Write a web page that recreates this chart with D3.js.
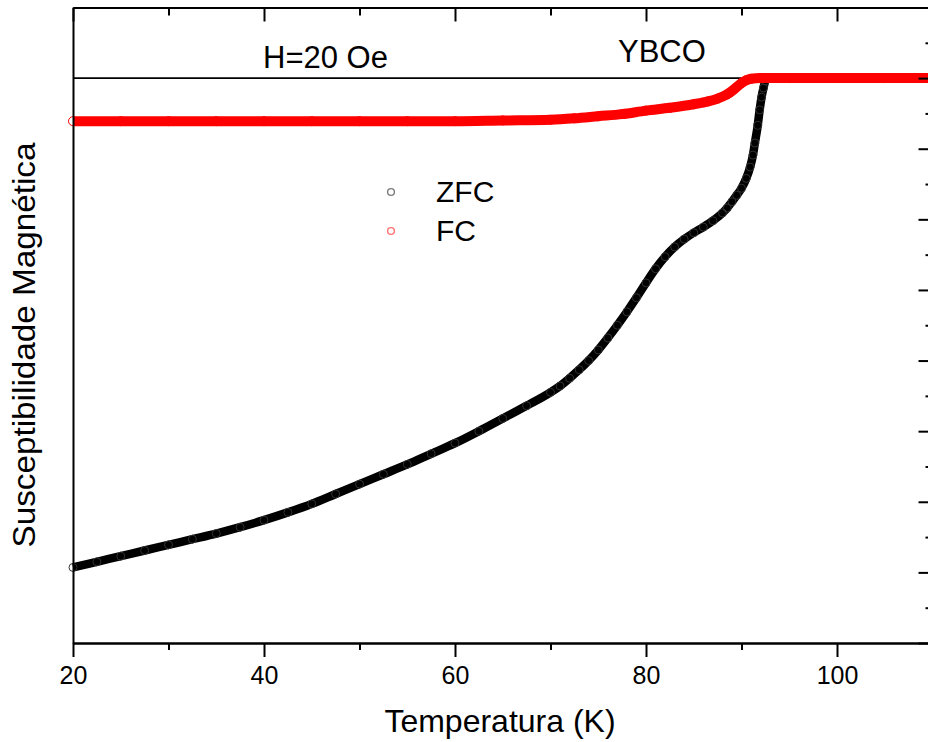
<!DOCTYPE html>
<html lang="pt">
  <head>
    <meta charset="utf-8" />
    <title>YBCO ZFC / FC</title>
    <script src="https://cdn.jsdelivr.net/npm/d3@7"></script>
    <style>
      body { margin: 0; background: #fff; }
    </style>
  </head>
  <body>
    <svg id="chart" width="928" height="742"></svg>
    <script>
      // Temperatura (K) e susceptibilidade (unidades arbitrárias)
      const zfcT = [20, 22.5, 25, 27.5, 30, 32.5, 35, 37.5, 40, 42.5, 45, 47.5, 50, 52.5, 55, 57.5, 60, 62.5, 65, 67.5,
        70, 71, 72, 73, 74, 75, 76, 77, 78, 79, 80, 81, 82, 83, 84, 85, 86, 87, 88, 88.5, 89, 89.5, 90, 90.5,
        90.9, 91.2, 91.4, 91.7, 91.9, 92.1, 92.3, 92.5, 92.8, 95, 100, 105, 110];
      const zfcChi = [-6.93, -6.85, -6.77, -6.69, -6.61, -6.53, -6.45, -6.36, -6.26, -6.15, -6.03, -5.89, -5.75, -5.61,
        -5.47, -5.32, -5.17, -5.00, -4.82, -4.64, -4.45, -4.36, -4.25, -4.13, -4.00, -3.85, -3.68, -3.50, -3.31,
        -3.11, -2.90, -2.70, -2.53, -2.39, -2.28, -2.19, -2.11, -2.02, -1.91, -1.84, -1.75, -1.66, -1.56, -1.42,
        -1.26, -1.09, -0.92, -0.67, -0.45, -0.27, -0.14, -0.04, 0, 0, 0, 0, 0];

      const fcT = [20, 25, 30, 35, 40, 45, 50, 55, 60, 65, 70, 72.5, 75, 77.5, 80, 82.5, 85, 86.5, 87.5, 88.5,
        89.3, 90, 90.5, 91, 92, 95, 100, 105, 110];
      const fcChi = [-0.61, -0.61, -0.61, -0.61, -0.61, -0.61, -0.61, -0.61, -0.61, -0.60, -0.59, -0.57, -0.54,
        -0.51, -0.46, -0.42, -0.37, -0.33, -0.29, -0.23, -0.15, -0.07, -0.03, -0.01, 0, 0, 0, 0, 0];

      const xMajor = [20, 40, 60, 80, 100];
      const xMinor = [30, 50, 70, 90, 110];
      const yMajor = [-8, -7, -6, -5, -4, -3, -2, -1, 0, 1];
      const yMinor = [-7.5, -6.5, -5.5, -4.5, -3.5, -2.5, -1.5, -0.5, 0.5];

      const font = "'Liberation Sans', Arial, sans-serif";
      const svg = d3.select("#chart").attr("font-family", font);

      const m = { left: 73, right: 932.5, top: 7.5, bottom: 643 };

      const x = d3.scaleLinear().domain([20, 110]).range([m.left, m.right]);
      const y = d3.scaleLinear().domain([-8, 1]).range([m.bottom, m.top]);

      const zfc = zfcT.map((t, i) => ({ t: t, v: zfcChi[i] }));
      const fc = fcT.map((t, i) => ({ t: t, v: fcChi[i] }));

      const line = d3.line()
        .x(d => x(d.t))
        .y(d => y(d.v))
        .curve(d3.curveMonotoneX);

      // linha de referência em zero
      svg.append("line")
        .attr("x1", m.left).attr("x2", m.right)
        .attr("y1", y(0)).attr("y2", y(0))
        .attr("stroke", "#000").attr("stroke-width", 1.6);

      // ZFC
      svg.append("path")
        .datum(zfc)
        .attr("d", line)
        .attr("fill", "none")
        .attr("stroke", "#000")
        .attr("stroke-width", 8.5);
      svg.append("g")
        .selectAll("circle")
        .data(zfc)
        .join("circle")
          .attr("cx", d => x(d.t))
          .attr("cy", d => y(d.v))
          .attr("r", 4)
          .attr("fill", "none")
          .attr("stroke", "#333")
          .attr("stroke-width", 1);

      // FC
      svg.append("path")
        .datum(fc)
        .attr("d", line)
        .attr("fill", "none")
        .attr("stroke", "#ff0000")
        .attr("stroke-width", 10);
      svg.append("g")
        .selectAll("circle")
        .data(fc)
        .join("circle")
          .attr("cx", d => x(d.t))
          .attr("cy", d => y(d.v))
          .attr("r", 4.5)
          .attr("fill", "none")
          .attr("stroke", "#ff0000")
          .attr("stroke-width", 1);

      // eixos
      const styleAxis = g => g
        .call(g => g.selectAll("path.domain").attr("stroke-width", 2))
        .call(g => g.selectAll(".tick line").attr("stroke-width", 2));

      svg.append("g")
        .attr("transform", `translate(0,${m.bottom})`)
        .call(d3.axisBottom(x).tickValues(xMinor).tickSize(7).tickFormat("").tickSizeOuter(0))
        .call(styleAxis);
      svg.append("g")
        .attr("transform", `translate(0,${m.bottom})`)
        .call(d3.axisBottom(x).tickValues(xMajor).tickSize(14).tickPadding(9).tickSizeOuter(0))
        .call(styleAxis)
        .call(g => g.selectAll(".tick text")
          .attr("font-family", font)
          .attr("font-size", "25px")
          .attr("fill", "#000"));

      svg.append("g")
        .attr("transform", `translate(0,${m.top})`)
        .call(d3.axisTop(x).tickValues(xMinor).tickSize(-8).tickFormat("").tickSizeOuter(0))
        .call(styleAxis);
      svg.append("g")
        .attr("transform", `translate(0,${m.top})`)
        .call(d3.axisTop(x).tickValues(xMajor).tickSize(-14).tickFormat("").tickSizeOuter(0))
        .call(styleAxis);

      svg.append("g")
        .attr("transform", `translate(${m.right},0)`)
        .call(d3.axisRight(y).tickValues(yMinor).tickSize(-7).tickFormat("").tickSizeOuter(0))
        .call(styleAxis);
      svg.append("g")
        .attr("transform", `translate(${m.right},0)`)
        .call(d3.axisRight(y).tickValues(yMajor).tickSize(-14).tickFormat("").tickSizeOuter(0))
        .call(styleAxis);

      svg.append("g")
        .attr("transform", `translate(${m.left},0)`)
        .call(d3.axisLeft(y).tickValues([]).tickSizeOuter(0))
        .call(styleAxis);

      // títulos
      svg.append("text")
        .attr("x", 500)
        .attr("y", 732)
        .attr("text-anchor", "middle")
        .attr("font-size", "32px")
        .text("Temperatura (K)");

      svg.append("text")
        .attr("transform", "translate(35,345) rotate(-90)")
        .attr("text-anchor", "middle")
        .attr("font-size", "32px")
        .attr("textLength", 405)
        .attr("lengthAdjust", "spacingAndGlyphs")
        .text("Susceptibilidade Magnética");

      svg.append("text")
        .attr("x", 263).attr("y", 68)
        .attr("font-size", "31px")
        .text("H=20 Oe");

      svg.append("text")
        .attr("x", 618).attr("y", 62)
        .attr("font-size", "31px")
        .text("YBCO");

      // legenda
      const legend = [
        { name: "ZFC", color: "#7a7a7a", y: 192 },
        { name: "FC", color: "#ff7070", y: 231 }
      ];
      const lg = svg.append("g");
      lg.selectAll("circle")
        .data(legend)
        .join("circle")
          .attr("cx", 391)
          .attr("cy", d => d.y)
          .attr("r", 3.4)
          .attr("fill", "none")
          .attr("stroke", d => d.color)
          .attr("stroke-width", 1.4);
      lg.selectAll("text")
        .data(legend)
        .join("text")
          .attr("x", 436)
          .attr("y", d => d.y + 10)
          .attr("font-size", "30px")
          .text(d => d.name);
    </script>
  </body>
</html>
